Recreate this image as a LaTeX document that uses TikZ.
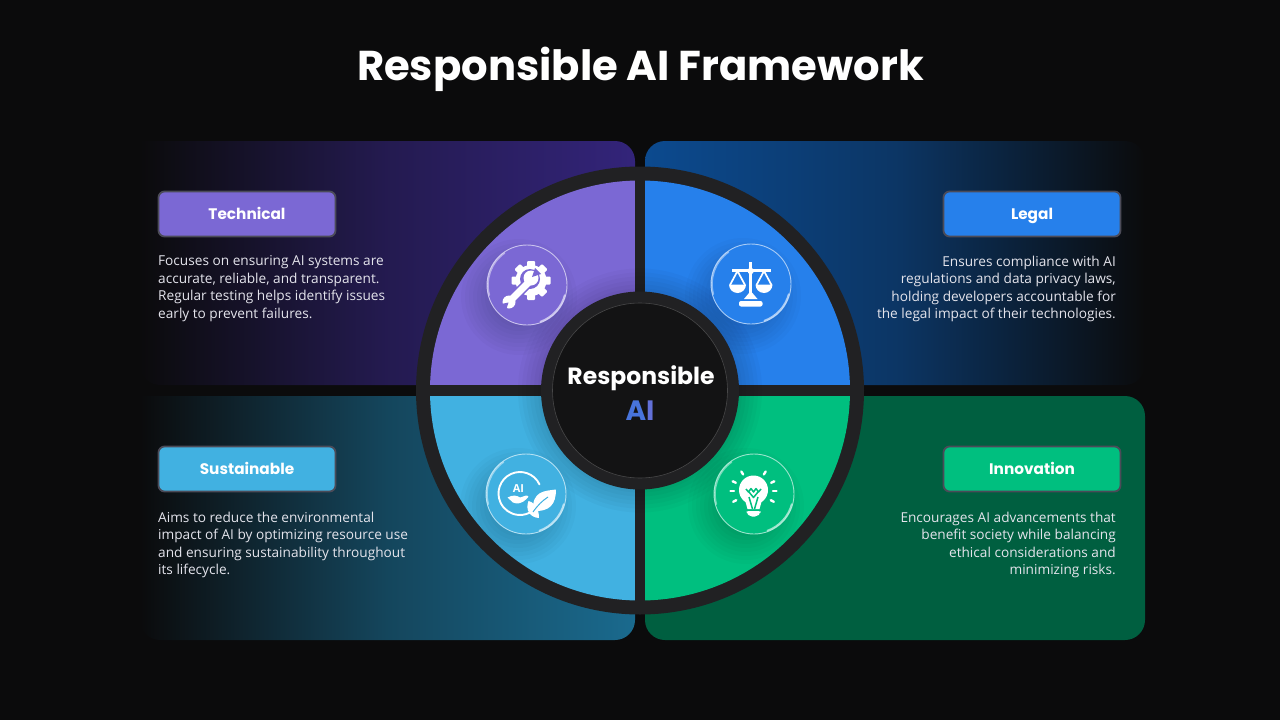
\documentclass[tikz,border=0pt]{standalone}
\usepackage{fontspec}
\setmainfont{Open Sans}
\newfontfamily\headfont{Poppins}
\definecolor{pagebg}{HTML}{0B0B0C}
\definecolor{ringgray}{HTML}{212123}
\definecolor{coredark}{HTML}{131314}
\definecolor{tagedge}{HTML}{4B4B58}
\definecolor{techpurple}{HTML}{7B68D4}
\definecolor{legalblue}{HTML}{2680EB}
\definecolor{sustcyan}{HTML}{41B1E1}
\definecolor{innovgreen}{HTML}{00BF7F}
\definecolor{techdeep}{HTML}{33247A}
\definecolor{legaldeep}{HTML}{0C4A8F}
\definecolor{sustdeep}{HTML}{1A6A8E}
\definecolor{innovdeep}{HTML}{005F40}
\definecolor{bodygray}{HTML}{E4E4EC}
\tikzset{
    tagbox/.style={draw=tagedge, line width=1.8pt, rounded corners=6pt, fill=#1,
        minimum width=177pt, minimum height=45pt, inner sep=0pt, text=white, text height=13.5pt, text depth=2pt,
        font=\headfont\bfseries\fontsize{15.3}{18}\selectfont},
    bodytext/.style={inner sep=0pt, text=bodygray, font=\fontsize{13.65}{17.5}\selectfont},
    glassball/.style={circle, minimum size=80pt, inner sep=0pt, draw=white!60!#1, line width=.9pt, fill=#1},
    gloss/.style={white, line cap=round, line width=1.6pt, opacity=.6},
    tinyray/.style={white, line cap=round, line width=2.4pt}
}
\begin{document}
\begin{tikzpicture}[x=1pt, y=-1pt]
    \useasboundingbox (0,0) rectangle (1280,720);
    \fill[pagebg] (0,0) rectangle (1280,720);

    % Title
    \node[text=white, font=\headfont\bfseries\fontsize{41.7}{50}\selectfont] (title) at (640.5,69) {Responsible AI Framework};

    % Background panels
    \shade[left color=pagebg, right color=techdeep, middle color=techdeep!62!pagebg, rounded corners=20pt]
        (140,141) -- (635,141) -- (635,385) -- (140,385) [sharp corners] -- cycle;
    \shade[left color=legaldeep, right color=pagebg, middle color=legaldeep!68!pagebg, rounded corners=20pt]
        (645,385) -- (645,141) -- (1145,141) -- (1145,385) [sharp corners] -- cycle;
    \shade[left color=pagebg, right color=sustdeep, middle color=sustdeep!62!pagebg, rounded corners=20pt]
        (140,396) -- (635,396) -- (635,640) -- (140,640) [sharp corners] -- cycle;
    \fill[innovdeep, rounded corners=20pt] (645,396) -- (1145,396) -- (1145,640) -- (645,640) -- cycle;

    % Outer ring and quadrants
    \fill[ringgray] (640,390.5) circle[radius=224];
    \begin{scope}
        \clip (640,390.5) circle[radius=210];
        \fill[techpurple] (430,180) rectangle (635,385);
        \fill[legalblue] (645,180) rectangle (850,385);
        \fill[sustcyan] (430,396) rectangle (635,601);
        \fill[innovgreen] (645,396) rectangle (850,601);
        % Soft shadow of the core
        \foreach \r in {122,118,...,100}
            \fill[black, opacity=.025] (640,390.5) circle[radius=\r];
        % Soft shadows of the glass balls
        \foreach \cx/\cy in {527/285, 751/284, 526/494, 754/494}
            \foreach \r in {58,54,...,30}
                \fill[black, opacity=.02] (\cx-8,\cy+12) circle[radius=\r];
    \end{scope}

    % Core
    \fill[ringgray] (640,390.5) circle[radius=99];
    \node[circle, minimum size=175pt, inner sep=0pt, fill=coredark, draw=white!22!coredark, line width=.6pt] (core) at (640,390.5) {};
    \node[text=white, font=\headfont\bfseries\fontsize{23.5}{28}\selectfont] (coreTop) at (641,378.5) {Responsible};
    \node[font=\headfont\bfseries\fontsize{28}{32}\selectfont] (coreBottom) at (640,410.5) {\textcolor[HTML]{4874DC}{A}\textcolor[HTML]{6270D8}{I}};

    % Tags
    \node[tagbox=techpurple] (technicalTag) at (247,214) {Technical};
    \node[tagbox=legalblue] (legalTag) at (1032,214) {Legal};
    \node[tagbox=sustcyan] (sustainableTag) at (247,469) {Sustainable};
    \node[tagbox=innovgreen] (innovationTag) at (1032,469) {Innovation};

    % Descriptions
    \node[bodytext, anchor=north west, align=left] (technicalText) at (158,255.5) {Focuses on ensuring AI systems are\\accurate, reliable, and transparent.\\Regular testing helps identify issues\\early to prevent failures.};
    \node[bodytext, anchor=north east, align=right] (legalText) at (1116,255.5) {Ensures compliance with AI\\regulations and data privacy laws,\\holding developers accountable for\\the legal impact of their technologies.};
    \node[bodytext, anchor=north west, align=left] (sustainableText) at (158,511.5) {Aims to reduce the environmental\\impact of AI by optimizing resource use\\and ensuring sustainability throughout\\its lifecycle.};
    \node[bodytext, anchor=north east, align=right] (innovationText) at (1116,511.5) {Encourages AI advancements that\\benefit society while balancing\\ethical considerations and\\minimizing risks.};

    % Glass balls
    \foreach \cx/\cy/\nm/\col in {527/285/technicalBall/techpurple, 751/284/legalBall/legalblue, 526/494/sustainableBall/sustcyan, 754/494/innovationBall/innovgreen} {
        \node[glassball=\col] (\nm) at (\cx,\cy) {};
        \draw[gloss] (\cx,\cy) ++(15:39) arc[start angle=15, end angle=70, radius=39];
        \draw[gloss, opacity=.45] (\cx,\cy) ++(165:39) arc[start angle=165, end angle=235, radius=39];
    }

    % Gear and wrench
    \foreach \a in {0,45,...,315}
        \fill[white, shift={(531,280.5)}, rotate=\a, rounded corners=1pt] (-4,-19.5) rectangle (4,-12);
    \fill[white] (531,280.5) circle[radius=15.5];
    \fill[techpurple] (530,279) circle[radius=10];
    \draw[techpurple, line width=10pt] (526,285) -- (513,298);
    \draw[white, line width=7pt] (530,281) -- (510,301);
    \fill[white] (531,278) circle[radius=7.5];
    \fill[techpurple] (532,277) -- (535,268) -- (541,274) -- cycle;
    \fill[white] (509,302) circle[radius=6.5];
    \fill[techpurple] (508.5,302.5) -- (501,304) -- (506,310) -- cycle;

    % Balance
    \fill[white] (749.3,262) rectangle (752.2,296);
    \fill[white] (750.7,271) circle[radius=3.2];
    \fill[white] (732,269.3) rectangle (770.7,272.3);
    \draw[white, line width=1.7pt, line join=round] (730,285) -- (737.5,271) -- (745,285);
    \draw[white, line width=1.7pt, line join=round] (756.5,285) -- (764,271) -- (771.5,285);
    \fill[white] (729,284.5) arc[start angle=180, end angle=0, radius=8.5, y=-1pt] -- cycle;
    \fill[white] (755.5,284.5) arc[start angle=180, end angle=0, radius=8.5, y=-1pt] -- cycle;
    \fill[white] (750.7,291) -- (757.5,299) -- (744,299) -- cycle;
    \fill[white, rounded corners=2pt] (739,306.5) -- (739,301) -- (762.5,301) -- (762.5,306.5) -- cycle;

    % Leaf, hand and AI
    \draw[white, line width=1.9pt, line cap=round] (520,493.5) ++(-25:21.5) arc[start angle=-25, end angle=-308, radius=21.5];
    \node[text=white, inner sep=0pt, font=\bfseries\fontsize{11}{12}\selectfont] (leafLabel) at (518.5,489) {AI};
    \fill[white] (507.5,497.5) .. controls (513,494.5) and (517,495.5) .. (520,497.5) -- (526,495.5) .. controls (529.5,495.5) and (528.5,498) .. (526.5,499) .. controls (522,503.5) and (517,504.5) .. (513,502.5) -- cycle;
    \fill[white] (533,511) .. controls (532,491) and (544,491) .. (556,489.5) .. controls (556,504) and (550,512) .. (533,511) -- cycle;
    \fill[white] (528.5,501) .. controls (525,510) and (530,517.5) .. (539,518) .. controls (539,510) and (536,503) .. (528.5,501) -- cycle;
    \draw[sustcyan, line width=1pt] (533,512) .. controls (538,505) and (542,501) .. (548,497);

    % Bulb
    \foreach \a in {-122, -58, -25, 205, 0, 180, 28, 152}
        \draw[tinyray] (753.5,491) ++(\a:19.5) -- ++(\a:3.5);
    \fill[white] (753.5,490) circle[radius=14.5];
    \fill[white] (745,500) -- (747.5,509) -- (759.5,509) -- (762,500) -- cycle;
    \fill[white, rounded corners=2pt] (746.5,511) -- (760.5,511) -- (760.5,513) -- (757,516.5) -- (750,516.5) -- (746.5,513) -- cycle;
    \draw[innovgreen, line width=1.5pt, line join=round] (746,489) -- (748.5,492) -- (751,488.5) -- (753.5,492) -- (756,488.5) -- (758.5,492) -- (761,489);
    \draw[innovgreen, line width=1.5pt, line join=round] (749,492) -- (753.5,497.5) -- (758,492);
    \draw[innovgreen, line width=1.5pt] (749,497) -- (752.5,509);
    \draw[innovgreen, line width=1.5pt] (758,497) -- (754.5,509);
\end{tikzpicture}
\end{document}
